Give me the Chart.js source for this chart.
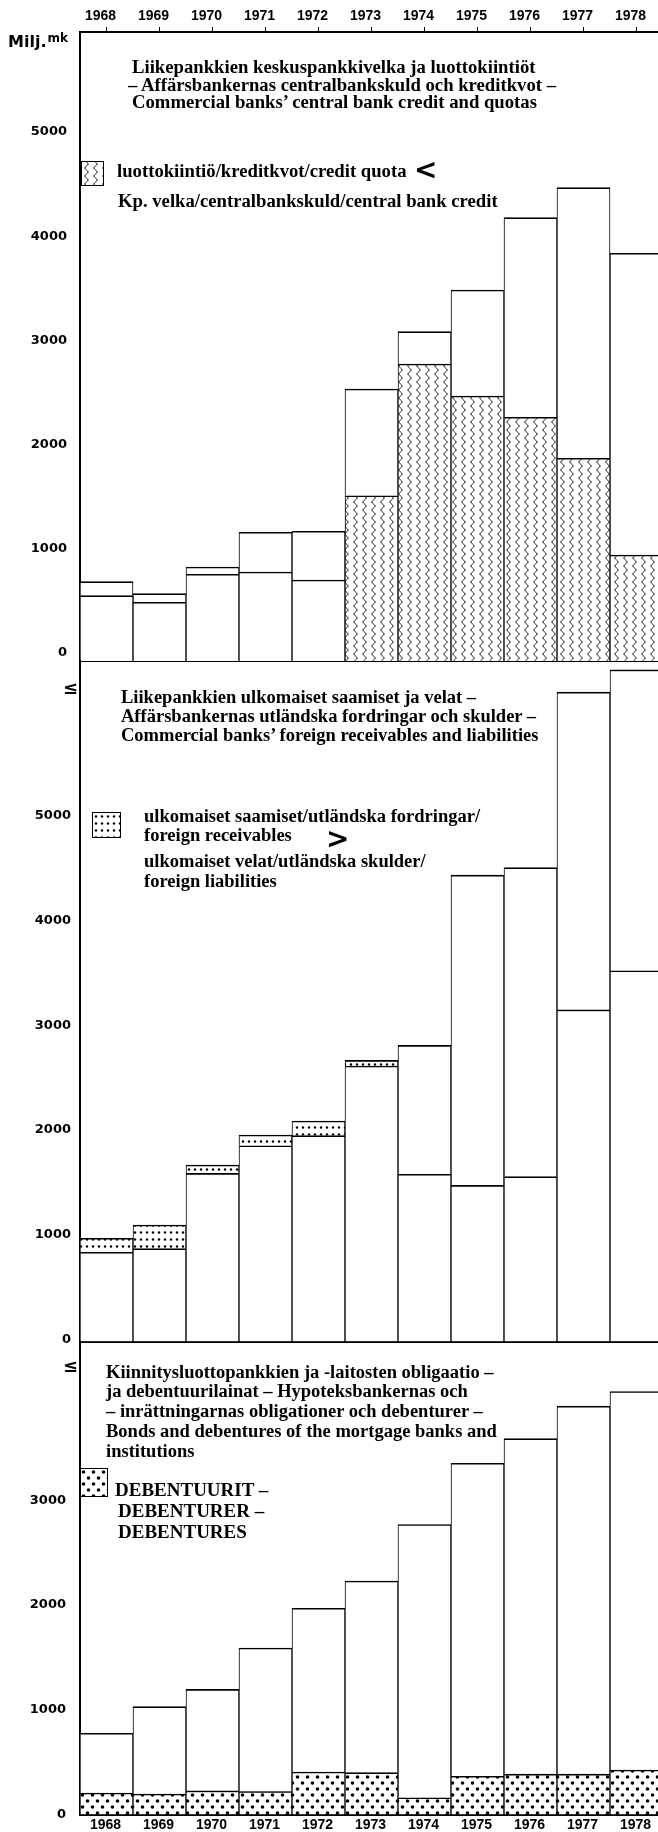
<!DOCTYPE html>
<html>
<head>
<meta charset="utf-8">
<script src="https://cdn.jsdelivr.net/npm/chart.js@4.4.1/dist/chart.umd.min.js"></script>
<style>
  html, body { margin: 0; padding: 0; background: #fff; }
  body { position: relative; width: 658px; height: 1832px; overflow: hidden; }
  canvas { position: absolute; left: 0; }
  #creditChart { top: 0; }
  #foreignChart { top: 655px; }
  #bondsChart { top: 1336px; }
  .txt { position: absolute; white-space: nowrap; color: #000; line-height: 1; }
  .swatch { position: absolute; border: 1.5px solid #000; box-sizing: border-box; }
</style>
</head>
<body>
<canvas id="creditChart" width="664" height="664"></canvas>
<canvas id="foreignChart" width="664" height="690"></canvas>
<canvas id="bondsChart" width="664" height="496"></canvas>
<script>
// Mill. mk, year-end figures
const years = ['1968', '1969', '1970', '1971', '1972', '1973', '1974', '1975', '1976', '1977', '1978'];

// central bank credit and credit quotas (quota shaded from 1973 on)
const creditTicks = [0, 1000, 2000, 3000, 4000, 5000];
const quota = [627, 563, 832, 854, 777, 1586, 2850, 2543, 2339, 1945, 1017];
const centralBankCredit = [761, 646, 902, 1235, 1245, 2610, 3160, 3560, 4254, 4542, 3913];
const quotaShadedFrom = '1973';

// foreign receivables and liabilities
const foreignTicks = [0, 1000, 2000, 3000, 4000, 5000];
const receivables = [986, 1113, 1686, 1972, 2106, 2685, 1597, 1491, 1575, 3167, 3541];
const liabilities = [852, 887, 1606, 1870, 1966, 2631, 2828, 4454, 4526, 6202, 6415];

// bonds and debentures of mortgage banks
const bondTicks = [0, 1000, 2000, 3000];
const bondsTotal = [776, 1030, 1195, 1590, 1970, 2230, 2770, 3355, 3590, 3900, 4040];
const debentures = [205, 195, 225, 220, 405, 400, 160, 365, 385, 385, 425];

const ink = '#000';
const serif = '"Liberation Serif", "Times New Roman", serif';
const sans = '"Liberation Sans", Arial, sans-serif';
const dejavu = '"DejaVu Sans", sans-serif';

// --- fill tiles -------------------------------------------------------
function tile(w, h, draw) {
  const c = document.createElement('canvas');
  c.width = w; c.height = h;
  const g = c.getContext('2d');
  g.fillStyle = '#fff';
  g.fillRect(0, 0, w, h);
  g.fillStyle = ink;
  g.strokeStyle = ink;
  draw(g);
  return c;
}

const wavyTile = tile(9, 8, g => {
  g.lineWidth = 1.0;
  g.beginPath();
  for (let y = -1; y <= 9; y += 0.5) {
    const x = 4.5 + 1.6 * Math.sin(y / 8 * 2 * Math.PI);
    if (y === -1) g.moveTo(x, y); else g.lineTo(x, y);
  }
  g.stroke();
});

function dotTile(w, h, pts, r) {
  return tile(w, h, g => {
    pts.forEach(([x, y]) => {
      g.beginPath();
      g.arc(x, y, r, 0, 2 * Math.PI);
      g.fill();
    });
  });
}
const fineDotTile = dotTile(6, 7, [[3, 3.5]], 1.2);
const coarseDotTile = dotTile(10, 12, [[2.5, 3], [7.5, 9]], 1.8);

function pattern(canvasId, t) {
  return document.getElementById(canvasId).getContext('2d').createPattern(t, 'repeat');
}

// --- shared scale pieces ----------------------------------------------
function yScale(max, tickValues, padding, labelOffset) {
  return {
    stacked: true,
    min: 0,
    max: max,
    afterBuildTicks: scale => { scale.ticks = tickValues.map(v => ({ value: v })); },
    // fixed axis width, and no extra room reserved for the end labels
    afterFit: scale => {
      scale.width = 80;
      scale.paddingTop = 0;
      scale.paddingBottom = 0;
    },
    grid: { display: false, drawTicks: false },
    border: { display: true, color: ink, width: 2 },
    ticks: {
      color: ink,
      padding: padding,
      labelOffset: labelOffset,
      callback: v => String(v),
      font: { family: dejavu, weight: 'bold', size: 13 }
    }
  };
}

function fixHeight(h) {
  return scale => {
    scale.height = h;
    scale.paddingLeft = 0;
    scale.paddingRight = 0;
  };
}

function lineOnlyAxis(position) {
  return {
    type: 'category',
    axis: 'x',
    position: position,
    stacked: true,
    afterFit: fixHeight(0),
    grid: { display: false, drawTicks: false },
    ticks: { display: false },
    border: { display: true, color: ink, width: 2 }
  };
}

const yearFont = { family: sans, weight: 'bold', size: 14 };

const barLook = {
  xAxisID: 'x',
  yAxisID: 'y',
  categoryPercentage: 1,
  barPercentage: 1,
  borderColor: ink,
  borderWidth: { top: 1.6, left: 1, right: 1, bottom: 0 },
  borderSkipped: 'start'
};

function barChart(id, datasets, scales, padding) {
  return new Chart(document.getElementById(id), {
    type: 'bar',
    data: { labels: years, datasets: datasets.map(d => Object.assign({}, barLook, d)) },
    options: {
      responsive: false,
      animation: false,
      devicePixelRatio: 1,
      layout: { padding: padding },
      plugins: { legend: { display: false }, tooltip: { enabled: false } },
      scales: scales
    }
  });
}

// --- panel 1: central bank credit and quotas --------------------------
const wavy = pattern('creditChart', wavyTile);
barChart('creditChart', [
  {
    label: 'luottokiintiö',
    data: years.map((y, i) => Math.min(quota[i], centralBankCredit[i])),
    backgroundColor: years.map(y => (y >= quotaShadedFrom ? wavy : '#fff'))
  },
  {
    label: 'Kp. velka',
    data: years.map((y, i) => Math.abs(centralBankCredit[i] - quota[i])),
    backgroundColor: '#fff'
  }
], {
  x: {
    position: 'top',
    stacked: true,
    afterFit: fixHeight(32),
    grid: { display: true, drawOnChartArea: false, drawTicks: true, tickLength: 5, color: ink, offset: false },
    border: { display: true, color: ink, width: 2 },
    ticks: { color: ink, padding: 2, labelOffset: -6, maxRotation: 0, autoSkip: false, font: yearFont }
  },
  xb: lineOnlyAxis('bottom'),
  y: yScale(6036, creditTicks, 13, -8)
}, { top: 0, right: 1, bottom: 3, left: 0 });

// --- panel 2: foreign receivables and liabilities ---------------------
const fineDots = pattern('foreignChart', fineDotTile);
barChart('foreignChart', [
  {
    label: 'lower',
    data: years.map((y, i) => Math.min(receivables[i], liabilities[i])),
    backgroundColor: '#fff'
  },
  {
    label: 'difference',
    data: years.map((y, i) => Math.abs(receivables[i] - liabilities[i])),
    backgroundColor: years.map((y, i) => (receivables[i] > liabilities[i] ? fineDots : '#fff'))
  }
], {
  x: lineOnlyAxis('bottom'),
  y: yScale(6500, foreignTicks, 9, -2)
}, { top: 6, right: 1, bottom: 3.5, left: 0 });

// --- panel 3: bonds and debentures ------------------------------------
const coarseDots = pattern('bondsChart', coarseDotTile);
barChart('bondsChart', [
  {
    label: 'DEBENTUURIT',
    data: debentures,
    backgroundColor: coarseDots
  },
  {
    label: 'obligaatiot',
    data: years.map((y, i) => bondsTotal[i] - debentures[i]),
    backgroundColor: '#fff'
  }
], {
  x: {
    position: 'bottom',
    stacked: true,
    afterFit: fixHeight(17.5),
    grid: { display: false, drawTicks: false },
    border: { display: true, color: ink, width: 2 },
    ticks: { color: ink, padding: 2, labelOffset: -1, maxRotation: 0, autoSkip: false, font: yearFont }
  },
  y: yScale(4513, bondTicks, 14, 0)
}, { top: 6, right: 1, bottom: 0, left: 0 });

// --- titles, legends and axis notes ------------------------------------
// baseline sits at about 0.84 em below the top of a line-height:1 box
function text(str, x, baseline, size, family, extra) {
  const d = document.createElement('div');
  d.className = 'txt';
  d.textContent = str;
  d.style.left = x + 'px';
  d.style.top = (baseline - size * 0.84) + 'px';
  d.style.fontSize = size + 'px';
  d.style.fontFamily = family;
  d.style.fontWeight = 'bold';
  if (extra) Object.assign(d.style, extra);
  document.body.appendChild(d);
  return d;
}

function swatch(x, y, w, h, t) {
  const d = document.createElement('div');
  d.className = 'swatch';
  Object.assign(d.style, {
    left: x + 'px', top: y + 'px', width: w + 'px', height: h + 'px',
    backgroundImage: 'url(' + t.toDataURL() + ')'
  });
  document.body.appendChild(d);
}

const milj = text('Milj.', 8, 45, 16, dejavu);
const mk = document.createElement('span');
mk.textContent = 'mk';
mk.style.fontSize = '12px';
mk.style.marginLeft = '1px';
mk.style.verticalAlign = '5px';
milj.appendChild(mk);

const panel1Size = 18.7;
[
  ['Liikepankkien keskuspankkivelka ja luottokiintiöt', 132, 74],
  ['– Affärsbankernas centralbankskuld och kreditkvot –', 128, 92],
  ['Commercial banks’ central bank credit and quotas', 132, 109]
].forEach(([s, x, b]) => text(s, x, b, panel1Size, serif));
swatch(81, 161, 23, 25, wavyTile);
text('luottokiintiö/kreditkvot/credit quota', 117, 178, panel1Size, serif);
text('<', 414, 180, 28, dejavu);
text('Kp. velka/centralbankskuld/central bank credit', 118, 208, panel1Size, serif);

text('≤', 63, 694, 18, dejavu);
[
  ['Liikepankkien ulkomaiset saamiset ja velat –', 121, 704],
  ['Affärsbankernas utländska fordringar och skulder –', 121, 723],
  ['Commercial banks’ foreign receivables and liabilities', 121, 742]
].forEach(([s, x, b]) => text(s, x, b, 18.5, serif));
swatch(92, 812, 29, 26, fineDotTile);
[
  ['ulkomaiset saamiset/utländska fordringar/', 144, 823],
  ['foreign receivables', 144, 842],
  ['ulkomaiset velat/utländska skulder/', 144, 868],
  ['foreign liabilities', 144, 888]
].forEach(([s, x, b]) => text(s, x, b, 18.5, serif));
text('>', 326, 849, 28, dejavu);

text('≤', 63, 1372, 18, dejavu);
[
  ['Kiinnitysluottopankkien ja -laitosten obligaatio –', 106, 1379],
  ['ja debentuurilainat – Hypoteksbankernas och', 106, 1398],
  ['– inrättningarnas obligationer och debenturer –', 106, 1418],
  ['Bonds and debentures of the mortgage banks and', 106, 1438],
  ['institutions', 106, 1458]
].forEach(([s, x, b]) => text(s, x, b, 18.5, serif));
swatch(80, 1468, 28, 29, coarseDotTile);
[
  ['DEBENTUURIT –', 115, 1496],
  ['DEBENTURER –', 118, 1517],
  ['DEBENTURES', 118, 1538]
].forEach(([s, x, b]) => text(s, x, b, 19, serif));
</script>
</body>
</html>
